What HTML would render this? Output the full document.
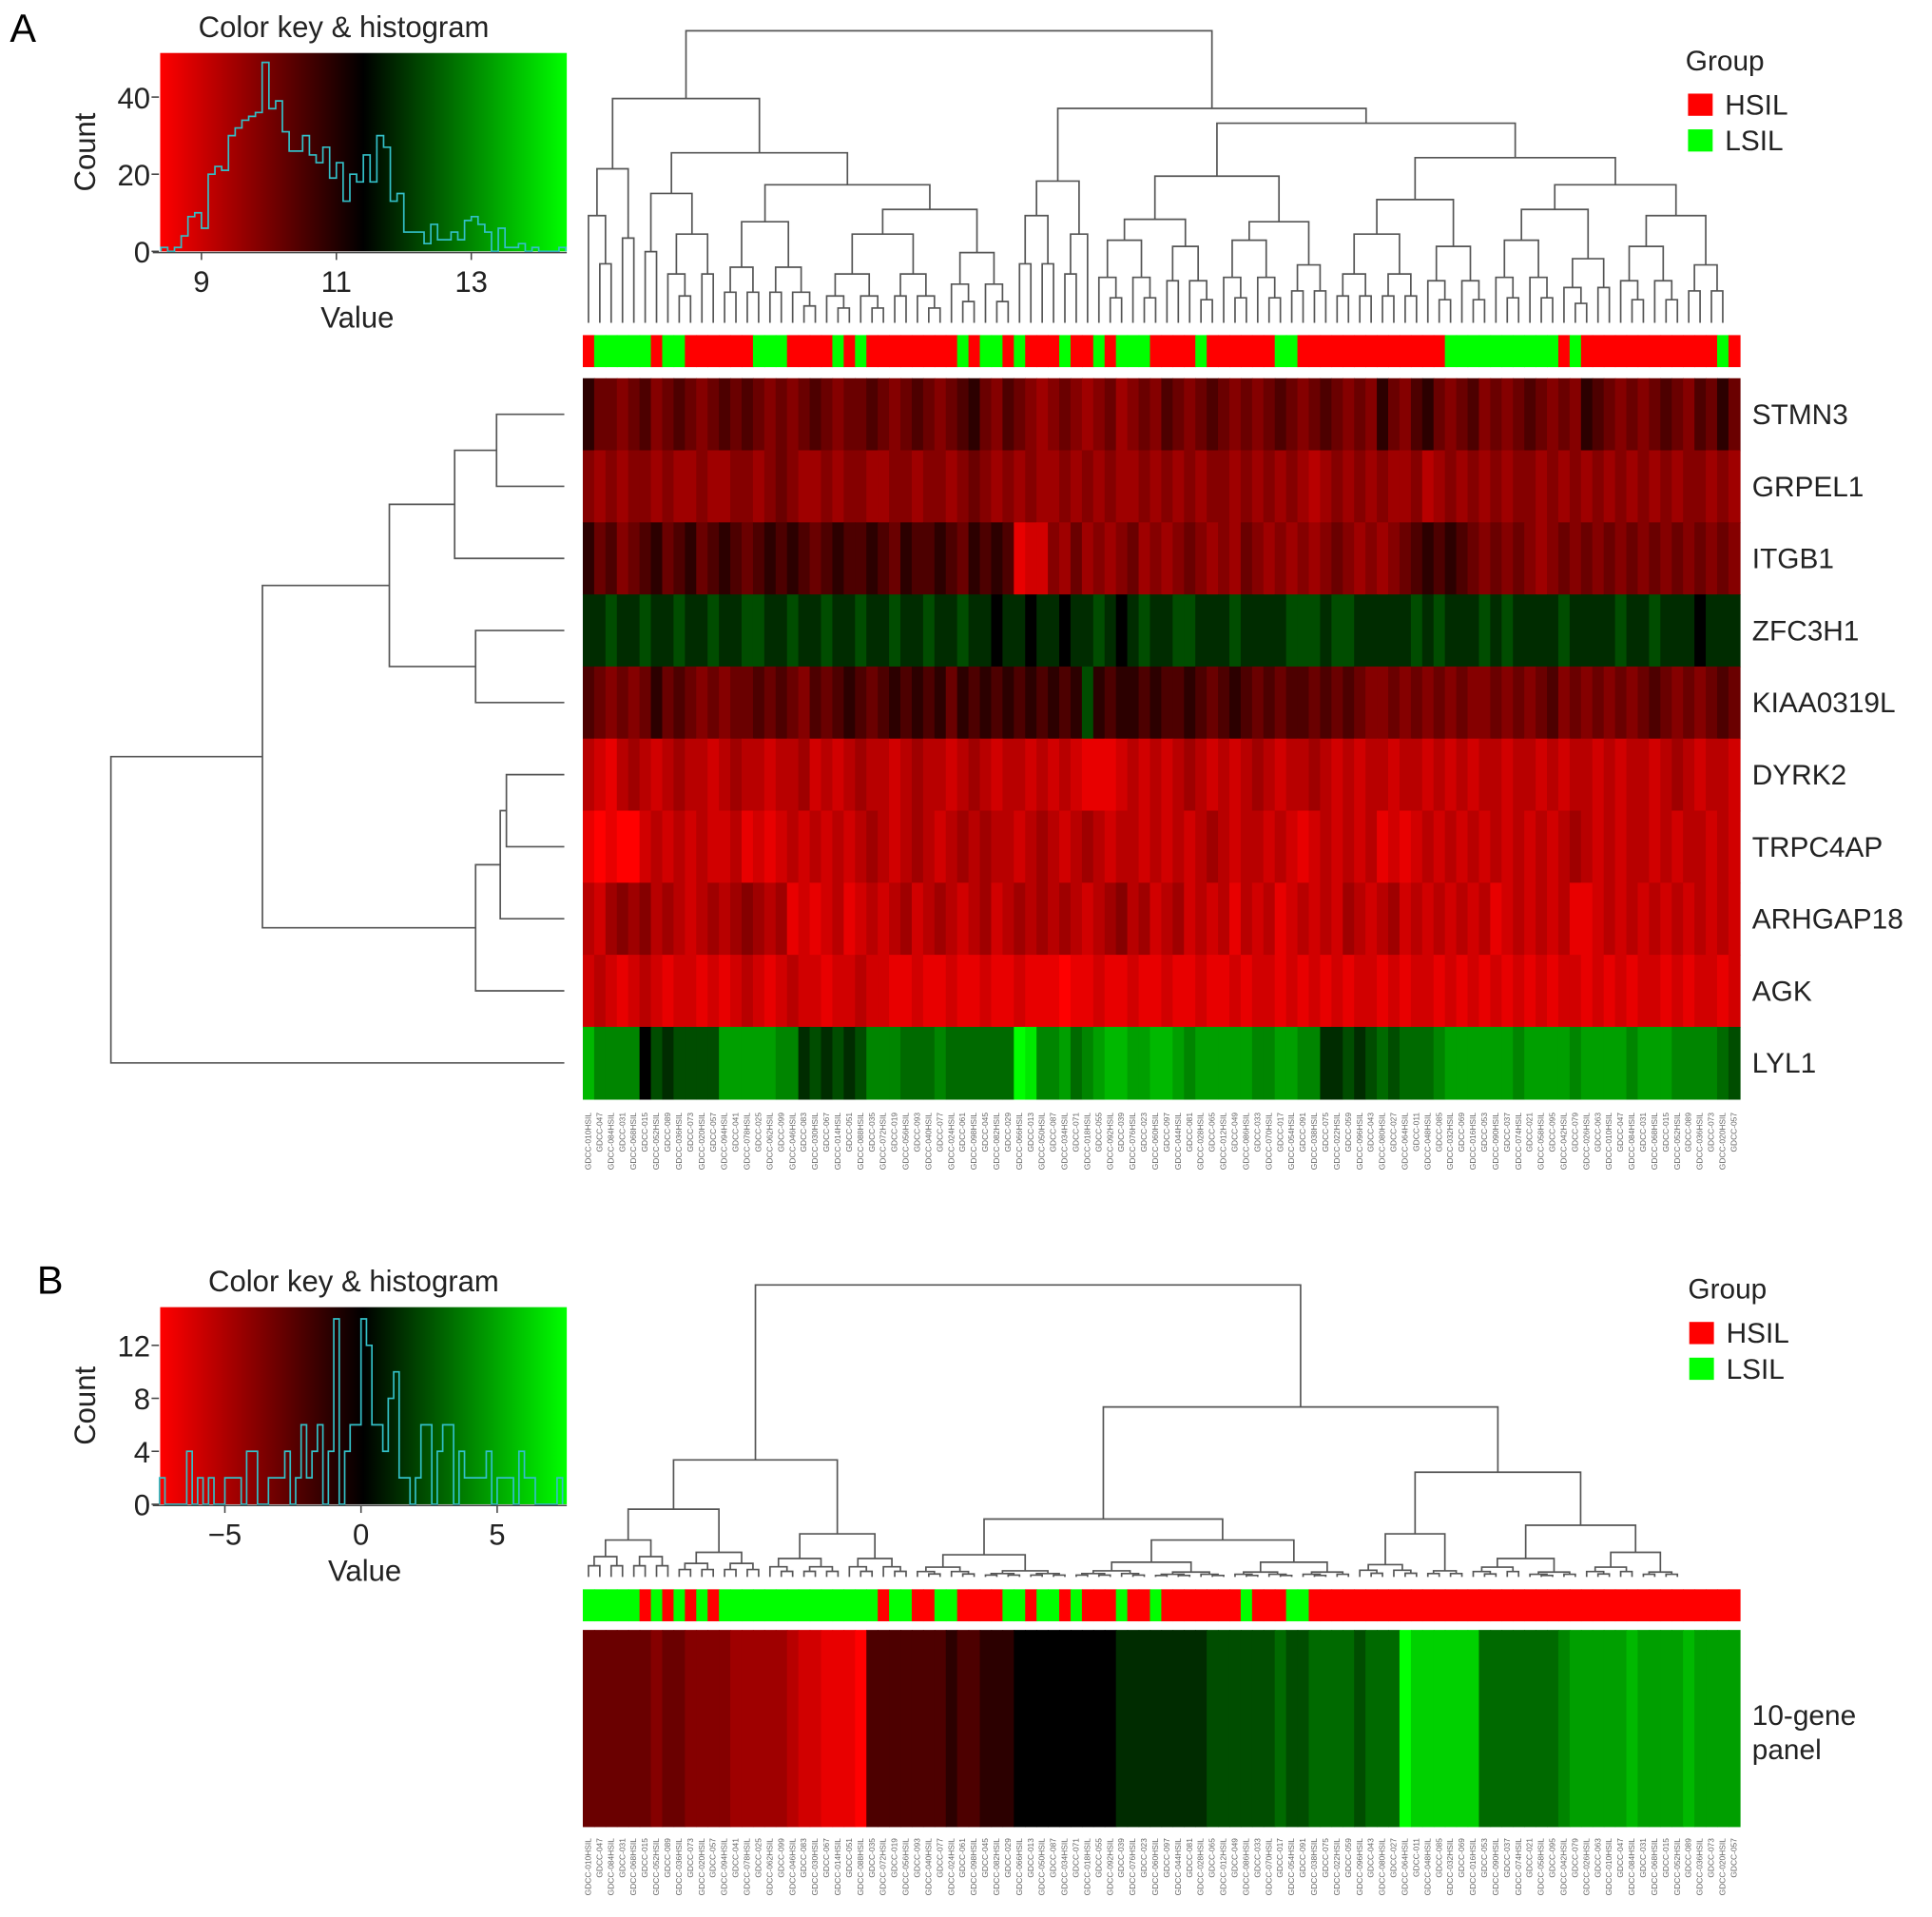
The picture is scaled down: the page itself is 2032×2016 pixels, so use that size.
<!DOCTYPE html>
<html><head><meta charset="utf-8"><title>Heatmap</title>
<style>html,body{margin:0;padding:0;background:#fff;}svg{display:block;font-family:"Liberation Sans",Arial,sans-serif;}</style>
</head><body>
<svg id="fig" width="2032" height="2016" viewBox="0 0 1568 1556" preserveAspectRatio="none" xmlns="http://www.w3.org/2000/svg">
<defs>
<linearGradient id="gA" x1="0" x2="1" y1="0" y2="0"><stop offset="0" stop-color="#ff0000"/><stop offset="0.5" stop-color="#000000"/><stop offset="1" stop-color="#00ff00"/></linearGradient>
</defs>
<rect width="1568" height="1556" fill="#fff"/>
<text x="8" y="34" font-size="32">A</text>
<text x="30" y="1050" font-size="32">B</text>
<g id="keyA"></g>
<g id="keyB"></g>
<g id="dendTopA" fill="none" stroke="#555" stroke-width="1.3"></g>
<g id="dendLeftA" fill="none" stroke="#555" stroke-width="1.3"></g>
<g id="dendTopB" fill="none" stroke="#555" stroke-width="1.3"></g>
<g id="groupA"></g>
<g id="groupB"></g>
<g id="heatA"></g>
<g id="heatB"></g>
<g id="rowLabelsA" font-size="23" fill="#222"></g>
<g id="sampA" font-size="6.5" fill="#666"></g>
<g id="sampB" font-size="6.5" fill="#666"></g>
<g font-size="23" fill="#222">
<text x="1368" y="57">Group</text>
<rect x="1370" y="76" width="20" height="18" fill="#ff0000"/>
<text x="1400" y="93">HSIL</text>
<rect x="1370" y="105" width="20" height="18" fill="#00ff00"/>
<text x="1400" y="122">LSIL</text>
</g>
<g font-size="23" fill="#222">
<text x="1370" y="1054">Group</text>
<rect x="1371" y="1073" width="20" height="18" fill="#ff0000"/>
<text x="1401" y="1090">HSIL</text>
<rect x="1371" y="1102" width="20" height="18" fill="#00ff00"/>
<text x="1401" y="1119">LSIL</text>
</g>
<text x="1422" y="1400" font-size="23" fill="#222">10-gene</text>
<text x="1422" y="1428" font-size="23" fill="#222">panel</text>
</svg>
<script>
const groupsA = [1,0,0,0,0,0,1,0,0,1,1,1,1,1,1,0,0,0,1,1,1,1,0,1,0,1,1,1,1,1,1,1,1,0,1,0,0,1,0,1,1,1,0,1,1,0,1,0,0,0,1,1,1,1,0,1,1,1,1,1,1,0,0,1,1,1,1,1,1,1,1,1,1,1,1,1,0,0,0,0,0,0,0,0,0,0,1,0,1,1,1,1,1,1,1,1,1,1,1,1,0,1];
const groupsB = [0,0,0,0,0,1,0,1,0,1,0,1,0,0,0,0,0,0,0,0,0,0,0,0,0,0,1,0,0,1,1,0,0,1,1,1,1,0,0,1,0,0,1,0,1,1,1,0,1,1,0,1,1,1,1,1,1,1,0,1,1,1,0,0,1,1,1,1,1,1,1,1,1,1,1,1,1,1,1,1,1,1,1,1,1,1,1,1,1,1,1,1,1,1,1,1,1,1,1,1,1,1];
const genesA = ["STMN3","GRPEL1","ITGB1","ZFC3H1","KIAA0319L","DYRK2","TRPC4AP","ARHGAP18","AGK","LYL1"];
const rowSTMN3 = [-1,-3,-3,-4,-3,-2,-4,-3,-2,-3,-4,-3,-2,-3,-2,-3,-4,-3,-4,-3,-2,-3,-4,-3,-3,-2,-3,-4,-3,-2,-3,-4,-3,-2,-1,-3,-4,-2,-3,-4,-5,-4,-3,-4,-5,-4,-3,-5,-4,-3,-4,-2,-3,-4,-3,-2,-3,-4,-3,-4,-3,-2,-3,-4,-3,-2,-3,-4,-3,-4,-1,-3,-4,-2,-1,-3,-4,-3,-2,-4,-3,-4,-3,-2,-3,-4,-3,-4,-1,-2,-3,-4,-3,-4,-3,-2,-3,-4,-2,-3,-1,-3];
const rowGRPEL1 = [-4,-5,-4,-5,-4,-4,-5,-4,-5,-5,-4,-5,-5,-4,-4,-5,-4,-3,-4,-5,-5,-4,-5,-4,-4,-5,-5,-4,-4,-5,-4,-4,-5,-4,-3,-4,-5,-4,-5,-4,-5,-5,-4,-5,-4,-5,-4,-5,-5,-4,-5,-4,-5,-4,-5,-4,-4,-5,-4,-5,-4,-5,-4,-5,-6,-5,-4,-5,-4,-5,-4,-5,-5,-4,-6,-5,-4,-5,-4,-5,-4,-5,-4,-4,-5,-4,-5,-4,-5,-4,-5,-4,-5,-4,-5,-4,-5,-4,-4,-5,-4,-5];
const rowITGB1 = [-1,-3,-2,-4,-3,-2,-1,-3,-2,-1,-3,-2,-1,-2,-3,-2,-1,-2,-1,-2,-3,-2,-1,-2,-2,-1,-2,-3,-1,-2,-2,-1,-2,-3,-1,-2,-1,-2,-8,-7,-7,-4,-5,-3,-5,-4,-5,-4,-3,-5,-4,-5,-4,-3,-4,-5,-4,-5,-3,-4,-5,-4,-5,-4,-5,-4,-3,-4,-5,-4,-5,-4,-3,-2,-1,-2,-1,-2,-3,-4,-3,-4,-3,-4,-5,-4,-3,-4,-3,-4,-3,-4,-3,-4,-3,-4,-3,-4,-3,-4,-3,-4];
const rowZFC3H1 = [1,1,2,1,1,2,1,1,2,1,1,2,1,1,2,2,1,1,2,1,1,2,1,1,2,1,1,2,1,1,2,1,1,2,1,1,0,1,1,0,1,1,0,1,1,2,1,0,1,2,1,1,2,2,1,1,1,2,1,1,1,1,2,2,2,1,2,2,1,1,1,1,1,2,1,2,1,1,1,2,1,2,1,1,1,1,2,1,1,1,1,2,1,1,2,1,1,1,0,1,1,1];
const rowKIAA0319L = [-2,-3,-4,-3,-4,-3,-1,-3,-2,-3,-4,-3,-4,-3,-3,-2,-3,-2,-3,-4,-2,-3,-2,-1,-2,-3,-2,-1,-2,-1,-2,-1,-3,-1,-2,-1,-2,-1,-2,-1,-2,-1,-2,-1,2,-1,-2,-1,-1,-2,-1,-2,-2,-1,-2,-3,-2,-1,-2,-3,-2,-3,-2,-2,-3,-2,-3,-2,-3,-4,-4,-3,-4,-3,-4,-3,-4,-3,-4,-4,-3,-4,-3,-4,-3,-2,-4,-3,-4,-3,-4,-3,-4,-3,-2,-3,-4,-3,-4,-3,-2,-3];
const rowDYRK2 = [-6,-7,-8,-6,-5,-6,-7,-6,-5,-6,-6,-7,-6,-5,-6,-6,-7,-6,-6,-5,-7,-6,-7,-6,-5,-6,-6,-7,-6,-5,-6,-6,-7,-6,-5,-6,-7,-6,-6,-7,-6,-7,-6,-7,-8,-8,-8,-7,-6,-7,-6,-7,-6,-5,-6,-7,-6,-7,-6,-5,-6,-7,-6,-6,-5,-6,-7,-6,-7,-6,-6,-7,-6,-6,-7,-6,-7,-6,-7,-6,-6,-7,-6,-6,-7,-6,-7,-6,-6,-7,-6,-7,-6,-6,-7,-6,-5,-6,-7,-6,-6,-7];
const rowTRPC4AP = [-8,-9,-8,-9,-9,-7,-6,-7,-6,-7,-6,-7,-7,-6,-8,-7,-8,-7,-6,-7,-6,-7,-6,-7,-6,-5,-6,-7,-6,-5,-6,-7,-6,-5,-6,-5,-6,-6,-7,-6,-5,-6,-7,-6,-5,-6,-7,-6,-6,-7,-6,-7,-6,-7,-6,-5,-6,-7,-6,-6,-7,-6,-7,-8,-7,-6,-7,-6,-7,-6,-8,-7,-8,-7,-6,-7,-6,-7,-6,-7,-6,-7,-6,-7,-6,-7,-6,-5,-6,-7,-6,-7,-6,-6,-7,-6,-7,-6,-6,-7,-6,-7];
const rowARHGAP18 = [-6,-7,-5,-4,-5,-4,-6,-5,-6,-7,-6,-5,-6,-5,-4,-5,-6,-5,-8,-7,-8,-7,-6,-8,-7,-6,-7,-6,-5,-7,-6,-5,-6,-7,-6,-5,-7,-6,-5,-6,-5,-6,-5,-6,-7,-6,-5,-4,-6,-5,-7,-6,-5,-7,-6,-7,-6,-8,-6,-7,-6,-8,-7,-6,-7,-6,-7,-5,-6,-7,-6,-5,-7,-6,-7,-6,-7,-6,-7,-6,-8,-7,-6,-7,-6,-7,-6,-8,-8,-7,-6,-7,-6,-7,-6,-7,-6,-7,-6,-7,-6,-7];
const rowAGK = [-7,-6,-7,-8,-7,-6,-7,-8,-7,-7,-8,-7,-8,-7,-6,-7,-8,-7,-6,-7,-7,-8,-7,-7,-6,-7,-7,-8,-8,-7,-8,-8,-7,-8,-8,-7,-8,-8,-7,-8,-8,-8,-9,-8,-8,-7,-8,-8,-7,-8,-8,-7,-8,-8,-7,-8,-8,-7,-8,-7,-7,-8,-7,-8,-7,-8,-7,-8,-7,-7,-8,-7,-8,-7,-7,-8,-7,-8,-7,-8,-7,-8,-7,-8,-7,-8,-7,-7,-8,-7,-8,-7,-8,-7,-7,-8,-7,-8,-7,-7,-8,-7];
const rowLYL1 = [6,4,4,4,4,0,2,1,2,2,2,2,5,5,5,5,5,4,4,1,2,1,2,1,2,4,4,4,3,3,3,4,3,3,3,3,3,3,9,8,4,4,5,3,4,5,6,6,5,5,6,6,5,4,5,5,5,5,5,4,4,5,5,4,4,1,1,2,1,2,3,2,3,3,3,4,5,5,5,5,5,5,4,5,5,5,5,4,5,5,5,5,4,5,5,5,4,4,4,4,3,2];
const rowPanelB = [-3,-3,-3,-3,-3,-3,-4,-3,-3,-4,-4,-4,-4,-5,-5,-5,-5,-5,-6,-7,-7,-8,-8,-8,-9,-2,-2,-2,-2,-2,-2,-2,-1,-2,-2,-1,-1,-1,0,0,0,0,0,0,0,0,0,1,1,1,1,1,1,1,1,2,2,2,2,2,2,3,2,2,3,3,3,3,2,3,3,3,9,7,7,7,7,7,7,3,3,3,3,3,3,3,4,5,5,5,5,5,6,5,5,5,5,6,5,5,5,5];
const histAStart = 8.4, histAWidth = 0.1;
const histACounts = [1,0,1,4,9,10,6,20,22,21,30,32,34,35,36,49,37,39,31,26,26,30,25,23,27,19,23,13,20,18,25,18,30,27,13,15,5,5,5,2,7,3,3,5,3,8,9,7,5,0,6,1,1,2,0,1,0,0,0,1];
const histBStart = -7.4, histBWidth = 0.2;
const histBCounts = [2,0,0,0,0,4,0,2,0,2,0,0,2,2,2,0,4,4,0,0,2,2,2,4,0,2,6,2,4,6,0,4,14,0,4,6,6,14,12,6,6,4,8,10,2,2,0,2,6,6,0,4,6,6,0,4,2,2,2,2,4,0,2,2,2,0,4,2,2,0,0,0,0,2];
const ticksAx = [9,11,13], ticksAy = [0,20,40];
const ticksBx = [-5,0,5], ticksBy = [0,4,8,12];
const treeTopA = [25,
  [80, [137,[175,1,2],2], [124,[157,2,[190,3,2]],[150,[180,4,5],[170,[190,6,5],[205,3,3]]]]],
  [88, [147,[175,2,2],[190,2,1]],
       [100, [143,[178,[195,3,3],[200,2,3]],[180,[195,3,3],[215,2,2]]],
             [128,[162,[190,4,4],[200,3,3]],[150,[170,[195,3,3],[210,3,2]],[175,[200,3,3],[215,2,2]]]]]]];
const treeLeftA = [90,[213,[316,[369,[403,1,1],1],[386,1,1]],[386,[406,[411,1,1],1],1]],1];
const treeTopB = [1043,
  [1185,[1225,[1250,4,4],[1260,4,4]],[1245,[1265,3,4],[1265,3,3]]],
  [1142,[1233,[1262,[1272,3,3],[1275,4,4]],[1250,[1268,[1275,4,3],[1276,4,3]],[1268,[1276,3,3],[1276,3,2]]]],
        [1195,[1245,[1270,3,3],[1275,2,2]],[1238,[1265,[1272,3,2],[1276,3,2]],[1260,[1272,3,2],[1276,2,2]]]]]];

const NS = "http://www.w3.org/2000/svg";
function mk(tag, attrs, parent){ const e=document.createElementNS(NS,tag); for(const k in attrs) e.setAttribute(k, attrs[k]); parent.appendChild(e); return e; }
function col(v){ const t=Math.min(1,Math.abs(v)/9); const c=Math.round(255*Math.pow(t,0.8)); return v<0?`rgb(${c},0,0)`:`rgb(0,${c},0)`; }

const HX0=473, HX1=1412;
const rowsA=[rowSTMN3,rowGRPEL1,rowITGB1,rowZFC3H1,rowKIAA0319L,rowDYRK2,rowTRPC4AP,rowARHGAP18,rowAGK,rowLYL1];
const HA_Y0=307, HA_Y1=892, rhA=(HA_Y1-HA_Y0)/rowsA.length;
const gA=document.getElementById('heatA');
rowsA.forEach((row,i)=>{ const w=(HX1-HX0)/row.length; row.forEach((v,j)=>{
  const r=mk('rect',{x:HX0+j*w,y:HA_Y0+i*rhA,width:w+0.6,height:rhA+0.6,fill:col(v)},gA);
  
  
});});
const rl=document.getElementById('rowLabelsA');
genesA.forEach((g,i)=>{ const t=mk('text',{x:1422,y:HA_Y0+(i+0.5)*rhA+8},rl); t.textContent=g;
  
  
});
const gB=document.getElementById('heatB');
{ const w=(HX1-HX0)/rowPanelB.length; rowPanelB.forEach((v,j)=>{
  const r=mk('rect',{x:HX0+j*w,y:1323,width:w+0.6,height:160,fill:col(v)},gB);
  
  
});}
function groupBar(arr, id, y0, h){ const g=document.getElementById(id); const w=(HX1-HX0)/arr.length;
  arr.forEach((v,j)=>{ const r=mk('rect',{x:HX0+j*w,y:y0,width:w+0.6,height:h,fill:v?'#ff0000':'#00ff00'},g);
    
    
  });}
groupBar(groupsA,'groupA',272,26);
groupBar(groupsB,'groupB',1290,26);
function sampleLabels(n,id,yTop){ const g=document.getElementById(id); const w=(HX1-HX0)/n;
  for(let j=0;j<n;j++){ const x=HX0+(j+0.5)*w+2; const t=mk('text',{x:x,y:yTop,transform:`rotate(-90 ${x} ${yTop})`,'text-anchor':'end'},g);
    t.textContent='GDCC-0'+String(10+((j*37)%90)).padStart(2,'0')+(j%2===0?'HSIL':'');
    
    
  }}
sampleLabels(groupsA.length,'sampA',903);
sampleLabels(groupsB.length,'sampB',1492);
function build(spec,pd,base){ if(typeof spec==='number') return grp(spec,pd,base);
  return {d:spec[0],kids:[build(spec[1],spec[0],base),build(spec[2],spec[0],base)]}; }
function grp(n,pd,base){ if(n===1) return {leaf:true,d:base}; const d=pd+(base-pd)*0.45; const a=Math.floor(n/2);
  return {d,kids:[grp(a,d,base),grp(n-a,d,base)]}; }
function drawTree(spec, base, p0, step, horizontal, gid){
  const g=document.getElementById(gid); const root=build(spec,spec[0],base); let idx=0;
  function rec(node){ if(node.leaf){ const p=p0+(idx+0.5)*step; idx++; return p; }
    const a=rec(node.kids[0]), b=rec(node.kids[1]); const da=node.kids[0].d, db=node.kids[1].d, d=node.d;
    const pts = horizontal ? `M${da},${a}H${d}V${b}H${db}` : `M${a},${da}V${d}H${b}V${db}`;
    const p=mk('path',{d:pts},g);
    
    
    return (a+b)/2; }
  rec(root); }
drawTree(treeTopA,262,HX0,(HX1-HX0)/groupsA.length,false,'dendTopA');
drawTree(treeTopB,1280,HX0,(HX1-HX0)/groupsB.length,false,'dendTopB');
drawTree(treeLeftA,458,HA_Y0,rhA,true,'dendLeftA');
function colorKey(id, box, xs, ys, counts, start, bw, xt, yt){
  const g=document.getElementById(id);
  const r=mk('rect',{x:box.x0,y:box.y0,width:box.x1-box.x0,height:box.y1-box.y0,fill:'url(#gA)'},g);
  
  
  let d='';
  counts.forEach((c,k)=>{ const xa=xs(start+k*bw), xb=xs(start+(k+1)*bw), y=ys(c);
    d+=(k===0?`M${xa},${ys(0)}V${y}`:`V${y}`)+`H${xb}`; });
  d+=`V${ys(0)}`;
  const h=mk('path',{d:d,fill:'none',stroke:'#33c0c8','stroke-width':1.3},g);
  
  
  const ax=mk('path',{d:`M${box.x0-6},${box.y1+1}H${box.x1}`,stroke:'#444','stroke-width':1.2,fill:'none'},g);
  
  
  xt.forEach(v=>{ const x=xs(v);
    const tk=mk('path',{d:`M${x},${box.y1+1}v6`,stroke:'#444','stroke-width':1.2},g);
    
    
    const t=mk('text',{x:x,y:box.y1+33,'text-anchor':'middle','font-size':24,fill:'#222'},g); t.textContent=v<0?'\u2212'+(-v):String(v);
    
    
  });
  yt.forEach(v=>{ const y=ys(v);
    const tk=mk('path',{d:`M${box.x0-7},${y}h6`,stroke:'#444','stroke-width':1.2},g);
    
    
    const t=mk('text',{x:box.x0-8,y:y+9,'text-anchor':'end','font-size':24,fill:'#222'},g); t.textContent=String(v);
    
    
  });
  const cy=(box.y0+box.y1)/2;
  const yl=mk('text',{x:77,y:cy,transform:`rotate(-90 77 ${cy})`,'text-anchor':'middle','font-size':24,fill:'#222'},g); yl.textContent='Count';
  
  
  const xl=mk('text',{x:(box.x0+box.x1)/2-2+box.vdx,y:box.y1+62,'text-anchor':'middle','font-size':24,fill:'#222'},g); xl.textContent='Value';
  
  
  const tt=mk('text',{x:(box.x0+box.x1)/2+box.tdx,y:box.y0-13,'text-anchor':'middle','font-size':24,fill:'#222'},g); tt.textContent='Color key & histogram';
  
  
}
colorKey('keyA',{x0:130,x1:460,y0:43,y1:204,vdx:-3,tdx:-16},v=>163.5+54.75*(v-9),c=>204-3.13*c,histACounts,histAStart,histAWidth,ticksAx,ticksAy);
colorKey('keyB',{x0:130,x1:460,y0:1061,y1:1221,vdx:3,tdx:-8},v=>293+22.1*v,c=>1221-10.75*c,histBCounts,histBStart,histBWidth,ticksBx,ticksBy);
</script>
</body></html>
